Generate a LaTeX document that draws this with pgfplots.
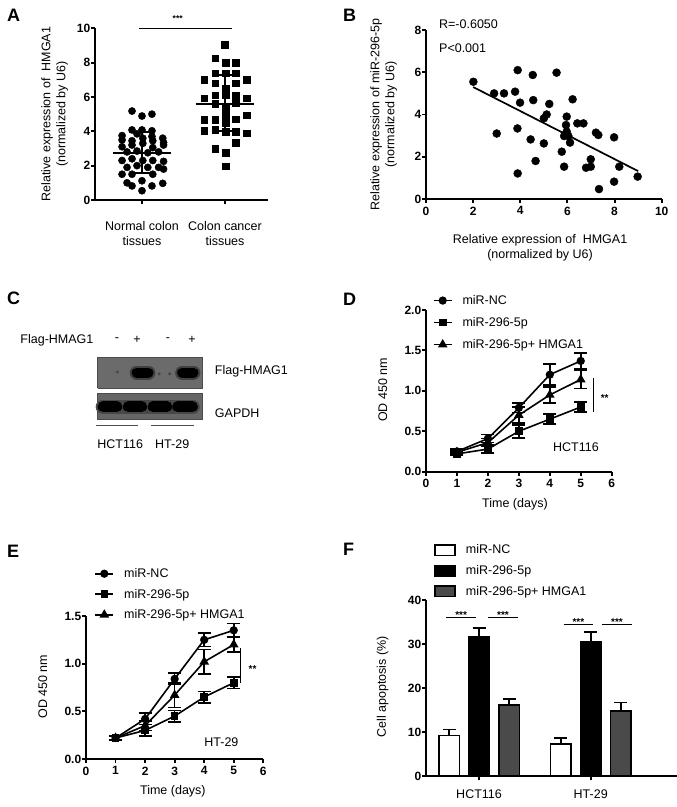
\documentclass[border=0pt]{standalone}
\usepackage{fontspec}
\setmainfont{Liberation Sans}
\usepackage{pgfplots}
\pgfplotsset{compat=1.18}
\newcommand\fs{\fontsize{12.5}{15}\selectfont}
\newcommand\tfs{\fontsize{12}{13}\selectfont\bfseries}
\newcommand\lfs{\fontsize{18}{20}\selectfont\bfseries}
\definecolor{dgray}{HTML}{4A4A4A}
\pgfplotsset{
  prism/.style={
    scale only axis, axis lines=left, axis line style={-, line width=1.9pt, black},
    tick align=outside, major tick length=4pt,
    tick style={line width=1.9pt, black},
    every tick label/.append style={font=\tfs},
    yticklabel style={inner xsep=0.6pt},
    xticklabel style={inner ysep=3.5pt},
    xticklabel={\textbf{\pgfmathprintnumber{\tick}}},
    yticklabel={\textbf{\pgfmathprintnumber{\tick}}},
    /pgf/number format/assume math mode=true,
    label style={font=\fs},
    clip=false,
  },
  ebar/.style={error bars/.cd, y dir=both, y explicit,
     error bar style={line width=1.6pt, draw=black},
     error mark options={rotate=90, mark size=6.5pt, line width=1.6pt, draw=black}},
  pbar/.style={error bars/.cd, y dir=plus, y explicit,
     error bar style={line width=1.7pt, draw=black, solid},
     error mark options={rotate=90, mark size=6.5pt, line width=1.7pt, draw=black}},
  boxlegend/.style={legend image code/.code={\draw[##1, line width=1.7pt] (0pt,-5.2pt) rectangle (20pt,5.2pt); \path (28pt,0pt);}},
  linelegend/.style={legend image code/.code={\draw[mark repeat=2, mark phase=2, ##1] plot coordinates {(0pt,0pt) (9pt,0pt) (18pt,0pt)}; \path (26pt,0pt);}},
}
\begin{document}
\begin{tikzpicture}[x=1pt,y=1pt]
\path[use as bounding box] (0,0) rectangle (677,807);
% panel letters
\node[anchor=base west, inner sep=0, font=\lfs] at (7,785) {A};
\node[anchor=base west, inner sep=0, font=\lfs] at (343,785) {B};
\node[anchor=base west, inner sep=0, font=\lfs] at (7,502) {C};
\node[anchor=base west, inner sep=0, font=\lfs] at (343,501) {D};
\node[anchor=base west, inner sep=0, font=\lfs] at (7,249) {E};
\node[anchor=base west, inner sep=0, font=\lfs] at (343,251) {F};

% ---------------- A
\begin{axis}[prism, at={(95pt,607pt)}, anchor=south west, width=173pt, height=171.7pt,
  xmin=-0.566, xmax=1.518, ymin=0, ymax=10, ytick={0,2,4,6,8,10},
  xtick={0,1}, xticklabels={Normal colon\\tissues, Colon cancer\\tissues},
  xticklabel style={align=center, font=\fs, yshift=-14pt},
  ylabel={Relative expression of~~HMGA1\\(normalized by U6)},
  ylabel style={at={(axis description cs:-0.234,0.5)}, anchor=center, align=center},
]
\addplot[only marks, mark=*, mark size=3.6pt] coordinates {
(-0.12,5.18)(0,4.89)(0.12,5.0)
(-0.12,4.08)(0,4.08)(0.12,4.03)
(-0.24,3.75)(-0.06,3.85)(0.12,3.7)(0.25,3.6)
(-0.24,3.5)(-0.12,3.45)(0.01,3.6)(0.13,3.45)(0.26,3.35)
(-0.24,3.1)(-0.12,3.2)(0.01,3.3)(0.13,3.05)(0.26,3.2)
(-0.18,2.8)(-0.06,2.85)(0.07,2.75)(0.2,2.8)
(-0.24,2.3)(-0.12,2.4)(0.01,2.3)(0.13,2.3)(0.26,2.25)
(-0.18,1.9)(-0.06,2.0)(0.07,1.9)(0.2,1.9)
(-0.24,1.5)(-0.12,1.5)(0.13,1.5)(0.26,1.8)
(0,1.12)(-0.18,1.0)(0.25,0.97)
(-0.12,0.82)(0,0.54)(0.12,0.82)
};
\addplot[only marks, mark=square*, mark size=3.3pt] coordinates {
(1,9.03)
(0.88,8.25)(1.01,8.0)(1.13,8.0)
(0.75,6.99)(0.88,7.38)(1.01,7.38)(1.13,7.38)(1.26,6.99)
(0.88,6.8)(1.13,6.8)(1.01,6.5)
(0.75,5.92)(0.88,6.1)(1.01,6.1)(1.13,6.1)(1.26,5.92)
(0.88,5.6)(1.13,5.65)(1.01,5.34)
(0.75,4.66)(0.88,4.66)(1.01,4.95)(1.13,4.7)(1.26,4.95)(1.01,4.5)
(0.75,4.03)(0.88,4.08)(1.01,3.98)(1.13,3.98)(1.26,3.88)
(1.13,3.34)(0.88,3.0)(1.01,2.76)
(1.01,1.98)
};
\addplot[line width=1.7pt] coordinates {(-0.35,2.72)(0.35,2.72)};
\addplot[line width=1.7pt] coordinates {(0,1.59)(0,3.95)};
\addplot[line width=1.7pt] coordinates {(-0.16,1.59)(0.16,1.59)};
\addplot[line width=1.7pt] coordinates {(-0.16,3.95)(0.16,3.95)};
\addplot[line width=1.7pt] coordinates {(0.65,5.59)(1.35,5.59)};
\addplot[line width=1.7pt] coordinates {(1,4.03)(1,7.28)};
\addplot[line width=1.7pt] coordinates {(0.84,4.03)(1.16,4.03)};
\addplot[line width=1.7pt] coordinates {(0.84,7.28)(1.16,7.28)};
\addplot[line width=1.1pt] coordinates {(-0.04,10)(1.08,10)};
\node[anchor=base, font=\fontsize{8.5}{9}\selectfont\bfseries] at (axis cs:0.43,10.4) {***};
\end{axis}

% ---------------- B
\begin{axis}[prism, at={(426pt,608pt)}, anchor=south west, width=235.7pt, height=169pt,
  xmin=0, xmax=10, ymin=0, ymax=8, xtick={0,2,...,10}, ytick={0,2,4,6,8},
  ylabel={Relative expression of miR-296-5p\\(normalized by U6)},
  ylabel style={at={(axis description cs:-0.18,0.5)}, anchor=center, align=center},
  xlabel={Relative expression of~~HMGA1\\(normalized by U6)},
  xlabel style={at={(axis description cs:0.484,-0.29)}, anchor=center, align=center},
]
\addplot[only marks, mark=*, mark size=4pt] coordinates {
(2.01,5.55)(2.89,5.0)(3.0,3.1)(3.31,5.0)(3.78,5.08)(3.89,6.1)(3.99,4.56)(3.88,3.34)
(3.89,1.21)(4.53,5.87)(4.55,4.68)(4.44,2.82)(4.65,1.8)(5.0,2.63)(5.0,3.82)(5.12,4.0)
(5.23,4.5)(5.54,5.98)(5.76,2.24)(5.86,1.53)(5.86,2.98)(5.97,3.9)(5.94,3.5)(5.97,3.19)
(6.04,2.98)(6.11,2.67)(6.22,4.72)(6.42,3.58)(6.68,3.58)(6.79,1.48)(6.99,1.88)(6.99,1.53)
(7.21,3.14)(7.31,3.03)(7.34,0.47)(7.98,2.92)(7.98,0.82)(8.2,1.53)(8.98,1.06)
};
\addplot[line width=1.7pt] coordinates {(2,5.3)(9,1.32)};
\node[anchor=base west, inner sep=0, font=\fs] at (axis cs:0.55,8.09) {R=-0.6050};
\node[anchor=base west, inner sep=0, font=\fs] at (axis cs:0.55,6.95) {P<0.001};
\end{axis}

% ---------------- C (blot)
\begin{axis}[hide axis, scale only axis, clip=false, at={(97.7pt,387pt)}, anchor=south west,
  width=104.6pt, height=62.3pt, xmin=0, xmax=4, ymin=0, ymax=1]
\addplot[fill=black!58, draw=black!70, line width=1pt] coordinates {(0,0.507)(4,0.507)(4,1)(0,1)(0,0.507)};
\addplot[fill=black!60, draw=black!70, line width=1pt] coordinates {(0,0)(4,0)(4,0.42)(0,0.42)(0,0)};
\addplot[line width=14pt, line cap=round, black!75] coordinates {(1.49,0.762)(1.94,0.762)};
\addplot[line width=14pt, line cap=round, black!75] coordinates {(3.23,0.762)(3.66,0.762)};
\addplot[line width=10pt, line cap=round, black] coordinates {(1.49,0.762)(1.94,0.762)};
\addplot[line width=10pt, line cap=round, black] coordinates {(3.23,0.762)(3.66,0.762)};
\addplot[only marks, mark=*, mark size=1.3pt, black!72] coordinates {(0.75,0.77)(2.35,0.74)(2.75,0.74)};
\addplot[line width=14pt, line cap=round, black!72] coordinates {(0.19,0.213)(3.64,0.213)};
\addplot[line width=11pt, line cap=round, black] coordinates {(0.21,0.213)(0.73,0.213)};
\addplot[line width=11pt, line cap=round, black] coordinates {(1.17,0.213)(1.68,0.213)};
\addplot[line width=11pt, line cap=round, black] coordinates {(2.12,0.213)(2.64,0.213)};
\addplot[line width=11pt, line cap=round, black] coordinates {(3.06,0.213)(3.62,0.213)};
\addplot[line width=1.5pt, black!70] coordinates {(-0.065,-0.092)(1.54,-0.092)};
\addplot[line width=1.5pt, black!70] coordinates {(2.04,-0.092)(3.68,-0.092)};
\node[anchor=east, font=\fs] at (axis cs:-0.03,1.284) {Flag-HMAG1};
\node[font=\fs] at (axis cs:0.74,1.284) {-};
\node[font=\fs] at (axis cs:1.5,1.284) {+};
\node[font=\fs] at (axis cs:2.69,1.284) {-};
\node[font=\fs] at (axis cs:3.61,1.284) {+};
\node[anchor=west, font=\fs] at (axis cs:4.35,0.787) {Flag-HMAG1};
\node[anchor=west, font=\fs] at (axis cs:4.35,0.11) {GAPDH};
\node[font=\fs] at (axis cs:0.86,-0.385) {HCT116};
\node[font=\fs] at (axis cs:2.85,-0.385) {HT-29};
\end{axis}

% ---------------- D
\begin{axis}[prism, at={(426pt,335.3pt)}, anchor=south west, width=185.7pt, height=161.7pt,
  xmin=0, xmax=6, ymin=0, ymax=2, xtick={0,...,6}, ytick={0,0.5,1,1.5,2},
  /pgf/number format/.cd, fixed, fixed zerofill, precision=1, /pgfplots/.cd,
  xticklabel={\textbf{\pgfmathprintnumber[precision=0,fixed zerofill=false]{\tick}}},
  ylabel={OD 450 nm}, ylabel style={at={(axis description cs:-0.233,0.505)}, anchor=center},
  xlabel={Time (days)}, xlabel style={at={(axis description cs:0.479,-0.2)}, anchor=center},
  legend style={draw=none, fill=none, at={(axis description cs:0.02,1.117)}, anchor=north west,
    font=\fs, row sep=7.5pt, legend cell align=left},
]
\addplot[line width=1.6pt, mark=*, mark size=3.3pt, linelegend, ebar] coordinates {
(1,0.25)+-(0,0.03) (2,0.41)+-(0,0.05) (3,0.79)+-(0,0.06) (4,1.20)+-(0,0.13) (5,1.37)+-(0,0.1)};
\addplot[line width=1.6pt, mark=square*, mark size=3pt, linelegend, ebar] coordinates {
(1,0.22)+-(0,0.02) (2,0.28)+-(0,0.05) (3,0.50)+-(0,0.08) (4,0.65)+-(0,0.06) (5,0.80)+-(0,0.06)};
\addplot[line width=1.6pt, mark=triangle*, mark size=4pt, linelegend, ebar] coordinates {
(1,0.24)+-(0,0.02) (2,0.36)+-(0,0.05) (3,0.70)+-(0,0.1) (4,0.95)+-(0,0.1) (5,1.14)+-(0,0.11)};
\legend{miR-NC, miR-296-5p, miR-296-5p+ HMGA1}
\addplot[line width=1.1pt, forget plot] coordinates {(5.4,0.74)(5.4,1.16)};
\node[anchor=base west, inner sep=0, font=\fontsize{10}{11}\selectfont\bfseries] at (axis cs:5.64,0.87) {**};
\node[anchor=base west, inner sep=0, font=\fs] at (axis cs:4.1,0.247) {HCT116};
\end{axis}

% ---------------- E
\begin{axis}[prism, at={(86pt,48pt)}, anchor=south west, width=177.3pt, height=143pt,
  xmin=0, xmax=6, ymin=0, ymax=1.5, xtick={0,...,6}, ytick={0,0.5,1,1.5},
  /pgf/number format/.cd, fixed, fixed zerofill, precision=1, /pgfplots/.cd,
  xticklabel={\textbf{\pgfmathprintnumber[precision=0,fixed zerofill=false]{\tick}}},
  ylabel={OD 450 nm}, ylabel style={at={(axis description cs:-0.244,0.506)}, anchor=center},
  xlabel={Time (days)}, xlabel style={at={(axis description cs:0.49,-0.225)}, anchor=center},
  legend style={draw=none, fill=none, at={(axis description cs:0.03,1.362)}, anchor=north west,
    font=\fs, row sep=6pt, legend cell align=left},
]
\addplot[line width=1.6pt, mark=*, mark size=3.3pt, linelegend, ebar] coordinates {
(1,0.22)+-(0,0.02) (2,0.42)+-(0,0.06) (3,0.84)+-(0,0.06) (4,1.25)+-(0,0.07) (5,1.35)+-(0,0.07)};
\addplot[line width=1.6pt, mark=square*, mark size=3pt, linelegend, ebar] coordinates {
(1,0.22)+-(0,0.02) (2,0.30)+-(0,0.06) (3,0.45)+-(0,0.06) (4,0.65)+-(0,0.06) (5,0.80)+-(0,0.06)};
\addplot[line width=1.6pt, mark=triangle*, mark size=4pt, linelegend, ebar] coordinates {
(1,0.22)+-(0,0.02) (2,0.35)+-(0,0.05) (3,0.67)+-(0,0.13) (4,1.02)+-(0,0.13) (5,1.2)+-(0,0.08)};
\legend{miR-NC, miR-296-5p, miR-296-5p+ HMGA1}
\addplot[line width=1.1pt, forget plot] coordinates {(5.23,0.8)(5.23,1.16)};
\node[anchor=base west, inner sep=0, font=\fontsize{10}{11}\selectfont\bfseries] at (axis cs:5.5,0.91) {**};
\node[anchor=base west, inner sep=0, font=\fs] at (axis cs:4.0,0.13) {HT-29};
\end{axis}

% ---------------- F
\begin{axis}[prism, at={(426pt,31pt)}, anchor=south west, width=250.7pt, height=176pt,
  ybar, bar width=20.7pt,
  xmin=-0.475, xmax=1.77, ymin=0, ymax=40, ytick={0,10,20,30,40},
  xtick={0,1}, xticklabels={HCT116, HT-29}, xticklabel style={font=\fs, yshift=-6pt},
  ylabel={Cell apoptosis (\%)}, ylabel style={at={(axis description cs:-0.173,0.507)}, anchor=center},
  legend style={draw=none, fill=none, at={(axis description cs:0.02,1.337)}, anchor=north west,
    font=\fs, row sep=6pt, legend cell align=left},
]
\addplot[boxlegend, bar shift=-30pt, fill=white, draw=black, line width=1.7pt, pbar]
  coordinates {(0,9.2)+-(0,1.4) (1,7.2)+-(0,1.4)};
\addplot[boxlegend, bar shift=0pt, fill=black, draw=black, line width=1.7pt, pbar]
  coordinates {(0,31.6)+-(0,2.1) (1,30.5)+-(0,2.3)};
\addplot[boxlegend, bar shift=30pt, fill=dgray, draw=black, line width=1.7pt, pbar]
  coordinates {(0,16.1)+-(0,1.4) (1,14.7)+-(0,2)};
\legend{miR-NC, miR-296-5p, miR-296-5p+ HMGA1}
\addplot[sharp plot, line width=1.1pt, forget plot] coordinates {(-0.295,36)(-0.027,36)};
\addplot[sharp plot, line width=1.1pt, forget plot] coordinates {(0.08,36)(0.35,36)};
\addplot[sharp plot, line width=1.1pt, forget plot] coordinates {(0.76,34.5)(1.02,34.5)};
\addplot[sharp plot, line width=1.1pt, forget plot] coordinates {(1.1,34.5)(1.37,34.5)};
\node[anchor=base, font=\fontsize{10}{11}\selectfont\bfseries] at (axis cs:-0.16,35.7) {***};
\node[anchor=base, font=\fontsize{10}{11}\selectfont\bfseries] at (axis cs:0.215,35.7) {***};
\node[anchor=base, font=\fontsize{10}{11}\selectfont\bfseries] at (axis cs:0.89,34.2) {***};
\node[anchor=base, font=\fontsize{10}{11}\selectfont\bfseries] at (axis cs:1.235,34.2) {***};
\end{axis}
\end{tikzpicture}
\end{document}
